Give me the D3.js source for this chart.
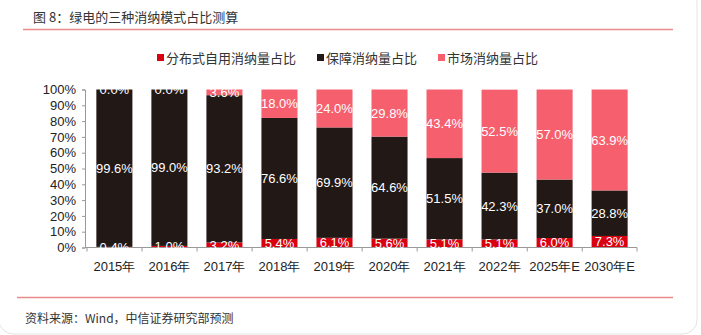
<!DOCTYPE html>
<html>
<head>
<meta charset="utf-8">
<script src="https://cdn.jsdelivr.net/npm/d3@7"></script>
<style>
  body { margin: 0; background: #fff; }
  svg { display: block; }
</style>
</head>
<body>
<svg id="chart" width="701" height="335"></svg>
<script>
// data
var years = ["2015年", "2016年", "2017年", "2018年", "2019年", "2020年", "2021年", "2022年", "2025年E", "2030年E"];
var distributed = [0.4, 1.0, 3.2, 5.4, 6.1, 5.6, 5.1, 5.1, 6.0, 7.3];
var guaranteed = [99.6, 99.0, 93.2, 76.6, 69.9, 64.6, 51.5, 42.3, 37.0, 28.8];
var market = [0.0, 0.0, 3.6, 18.0, 24.0, 29.8, 43.4, 52.5, 57.0, 63.9];
var seriesNames = ["分布式自用消纳量占比", "保障消纳量占比", "市场消纳量占比"];
var yTicks = [0, 10, 20, 30, 40, 50, 60, 70, 80, 90, 100];

var colors = ["#d9000f", "#221816", "#f55f6e"];
var cjk = "'Noto Sans CJK SC', sans-serif";
var latin = "'Liberation Sans', Arial, sans-serif";

var svg = d3.select("#chart");

// card outline
svg.append("rect")
  .attr("x", -1).attr("y", -12)
  .attr("width", 698).attr("height", 346)
  .attr("rx", 14)
  .attr("fill", "#fff")
  .attr("stroke", "#e4e4e4");

// title + rules
svg.append("text")
  .attr("x", 33).attr("y", 22)
  .attr("font-family", cjk).attr("font-size", 13)
  .attr("fill", "#333")
  .text("图 8：绿电的三种消纳模式占比测算");

svg.append("line")
  .attr("x1", 23).attr("x2", 673)
  .attr("y1", 29.5).attr("y2", 29.5)
  .attr("stroke", "#e98a8a").attr("stroke-width", 1.5);

svg.append("line")
  .attr("x1", 17).attr("x2", 673)
  .attr("y1", 297.5).attr("y2", 297.5)
  .attr("stroke", "#e98a8a").attr("stroke-width", 1.5);

svg.append("text")
  .attr("x", 25).attr("y", 323)
  .attr("font-family", cjk).attr("font-size", 12)
  .attr("fill", "#333")
  .text("资料来源：Wind，中信证券研究部预测");

// legend
var legendX = [157, 317, 438];
var legend = svg.selectAll("g.legend")
  .data(seriesNames)
  .enter().append("g")
  .attr("class", "legend")
  .attr("transform", function(d, i) { return "translate(" + legendX[i] + ",58)"; });
legend.append("rect")
  .attr("x", 0).attr("y", -4)
  .attr("width", 7).attr("height", 7)
  .attr("fill", function(d, i) { return colors[i]; });
legend.append("text")
  .attr("x", 9).attr("y", 4.5)
  .attr("font-family", cjk).attr("font-size", 13)
  .attr("fill", "#333")
  .text(function(d) { return d; });

// scales
var x = d3.scaleBand()
  .domain(years)
  .range([87, 637])
  .paddingInner(0.345)
  .paddingOuter(0.17);

var y = d3.scaleLinear()
  .domain([0, 100])
  .range([247.5, 89.5]);

// stack
var rows = years.map(function(yr, i) {
  return { year: yr, s0: distributed[i], s1: guaranteed[i], s2: market[i] };
});
var stack = d3.stack().keys(["s0", "s1", "s2"]);
var layers = stack(rows);

var g = svg.append("g");

g.selectAll("g.layer")
  .data(layers)
  .enter().append("g")
  .attr("class", "layer")
  .attr("fill", function(d, i) { return colors[i]; })
  .selectAll("rect")
  .data(function(d) { return d; })
  .enter().append("rect")
  .attr("x", function(d) { return x(d.data.year); })
  .attr("width", x.bandwidth())
  .attr("y", function(d) { return y(d[1]); })
  .attr("height", function(d) { return y(d[0]) - y(d[1]); });

// axes
var yAxis = svg.append("g")
  .attr("transform", "translate(85,0)")
  .call(d3.axisLeft(y).tickValues(yTicks).tickSize(3).tickFormat(function(d) { return d + "%"; }));
yAxis.select(".domain").attr("stroke", "#999");
yAxis.selectAll(".tick line").attr("stroke", "#999");
yAxis.selectAll("text")
  .attr("font-family", latin).attr("font-size", 13)
  .attr("fill", "#222").attr("x", -9);

var xAxis = svg.append("g")
  .attr("transform", "translate(0,247.5)")
  .call(d3.axisBottom(x).tickSize(0));
xAxis.select(".domain").attr("stroke", "#999").attr("d", "M85,0H637");
xAxis.selectAll("text")
  .attr("font-family", latin).attr("font-size", 13)
  .attr("fill", "#222").attr("y", 14);

// tick marks between categories
var bounds = years.map(function(d, i) { return 87 + i * x.step(); }).concat([637]);
xAxis.selectAll("line.sep")
  .data(bounds)
  .enter().append("line")
  .attr("class", "sep")
  .attr("x1", function(d) { return d; }).attr("x2", function(d) { return d; })
  .attr("y1", 0).attr("y2", 4)
  .attr("stroke", "#999");

// value labels on top of everything
var labels = svg.append("g");
layers.forEach(function(layerData) {
  labels.selectAll(null)
    .data(layerData)
    .enter().append("text")
    .attr("x", function(d) { return x(d.data.year) + x.bandwidth() / 2; })
    .attr("y", function(d) { return (y(d[0]) + y(d[1])) / 2; })
    .attr("dy", "0.36em")
    .attr("text-anchor", "middle")
    .attr("font-family", latin).attr("font-size", 13)
    .attr("fill", "#fff")
    .text(function(d) { return (d[1] - d[0]).toFixed(1) + "%"; });
});
</script>
</body>
</html>
